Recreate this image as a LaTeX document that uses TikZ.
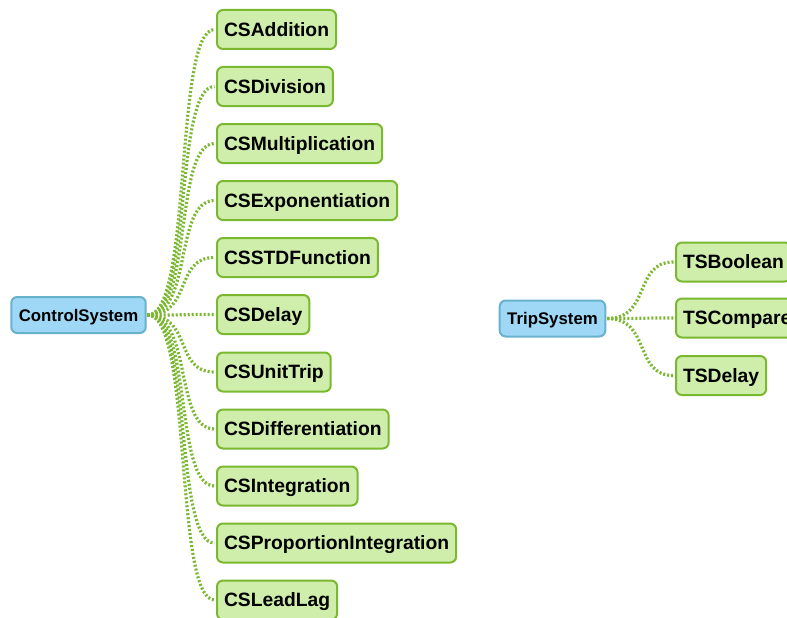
\documentclass[tikz,border=0pt]{standalone}
\usepackage{fontspec}
\setmainfont{Liberation Sans}
\usetikzlibrary{calc}
\definecolor{leaffill}{RGB}{207,238,172}
\definecolor{leafline}{RGB}{122,184,48}
\definecolor{rootfill}{RGB}{158,216,246}
\definecolor{rootline}{RGB}{104,178,204}
\begin{document}
\begin{tikzpicture}[x=1pt,y=-1pt,
  leaf/.style={draw=leafline, fill=leaffill, line width=2pt, rounded corners=6pt,
    anchor=west, inner xsep=7pt, minimum height=39pt, text height=13.8pt, text depth=0pt,
    font=\fontsize{19.3}{22}\selectfont\bfseries},
  root/.style={draw=rootline, fill=rootfill, line width=2pt, rounded corners=6pt,
    inner xsep=7.5pt, minimum height=36pt, text height=12pt, text depth=0pt,
    font=\fontsize{16.8}{20}\selectfont\bfseries},
  link/.style={draw=leafline, line width=3.2pt, dash pattern=on 2pt off 2pt,
    shorten >=1.5pt, shorten <=1pt}
]
\useasboundingbox[fill=white] (0,0) rectangle (787,618);

% ControlSystem branch
\node[root] (cs) at (78.5,315) {ControlSystem};
\foreach \n/\t/\y in {a1/CSAddition/29.5, a2/CSDivision/86.5, a3/CSMultiplication/143.5,
    a4/CSExponentiation/200.5, a5/CSSTDFunction/257.5, a6/CSDelay/314.5,
    a7/CSUnitTrip/372, a8/CSDifferentiation/429, a9/CSIntegration/486,
    a10/CSProportionIntegration/543, a11/CSLeadLag/600}{
  \node[leaf] (\n) at (216,\y) {\t};
  \draw[link] (cs.east) .. controls +(46,0) and ($(cs.east |- \n.west)+(27,0)$) .. (\n.west);
}

% TripSystem branch
\node[root] (ts) at (552.5,318.5) {TripSystem};
\foreach \n/\t/\y in {b1/TSBoolean/262, b2/TSCompare/318, b3/TSDelay/375.5}{
  \node[leaf] (\n) at (675,\y) {\t};
  \draw[link] (ts.east) .. controls +(45,0) and ($(ts.east |- \n.west)+(27,0)$) .. (\n.west);
}
\end{tikzpicture}
\end{document}
